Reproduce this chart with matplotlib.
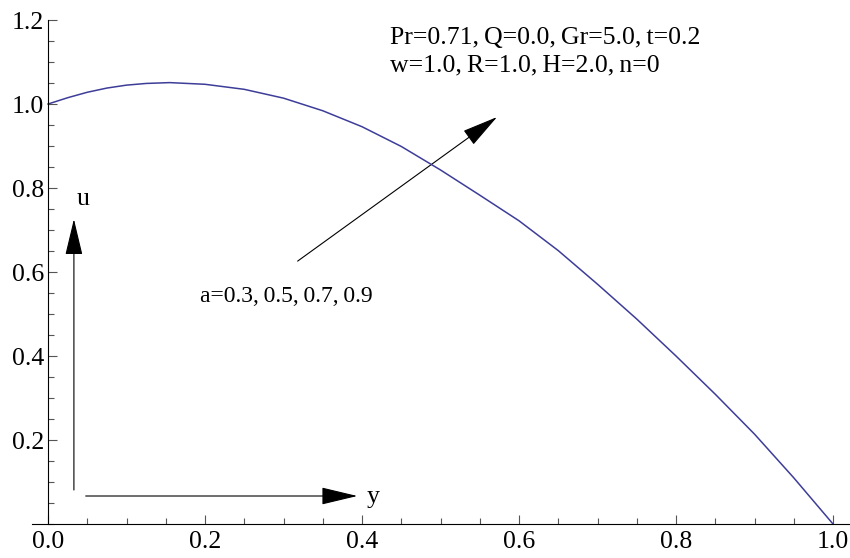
import matplotlib
matplotlib.use("Agg")
import matplotlib.pyplot as plt
from matplotlib.patches import FancyArrowPatch
from matplotlib.ticker import MultipleLocator

# velocity profile u(y) (curves for all a coincide)
y_vals = [0.0, 0.025, 0.05, 0.075, 0.1, 0.125, 0.155, 0.2, 0.25, 0.3, 0.35, 0.4,
          0.45, 0.5, 0.55, 0.6, 0.65, 0.7, 0.75, 0.8, 0.85, 0.9, 0.95, 1.0]
u_vals = [1.0, 1.015, 1.028, 1.038, 1.045, 1.049, 1.051, 1.047, 1.035, 1.014, 0.984,
          0.946, 0.899, 0.843, 0.783, 0.722, 0.651, 0.571, 0.488, 0.400, 0.309,
          0.214, 0.110, 0.0]

x_ticks = [0.0, 0.2, 0.4, 0.6, 0.8, 1.0]
y_ticks = [0.2, 0.4, 0.6, 0.8, 1.0, 1.2]

ts = "\u2009"
params_line1 = f"Pr=0.71,{ts}Q=0.0,{ts}Gr=5.0,{ts}t=0.2"
params_line2 = f"w=1.0,{ts}R=1.0,{ts}H=2.0,{ts}n=0"
a_label = f"a=0.3,{ts}0.5,{ts}0.7,{ts}0.9"

plt.rcParams["font.family"] = ["Liberation Serif", "DejaVu Serif"]

fig = plt.figure(figsize=(8.5, 5.58), dpi=100)
ax = fig.add_axes([0.038, 0.0609, 0.9605, 0.9032])

ax.plot(y_vals, u_vals, color="#3d3d99", lw=1.1)

ax.set_xlim(-0.02, 1.02)
ax.set_ylim(0, 1.2)
ax.spines["left"].set_position(("data", 0))
ax.spines["top"].set_visible(False)
ax.spines["right"].set_visible(False)
for s in ("left", "bottom"):
    ax.spines[s].set_linewidth(0.8)

ax.set_xticks(x_ticks, [f"{v:.1f}" for v in x_ticks])
ax.set_yticks(y_ticks, [f"{v:.1f}" for v in y_ticks])
ax.xaxis.set_minor_locator(MultipleLocator(0.05))
ax.yaxis.set_minor_locator(MultipleLocator(0.05))
ax.tick_params(which="both", direction="in", color="#555555", width=0.8,
               labelsize=18.5)
ax.tick_params(which="major", length=6.5)
ax.tick_params(which="minor", length=4.3)
ax.tick_params(axis="x", pad=5)
ax.tick_params(axis="y", pad=3)


def arrow(p0, p1):
    ax.add_patch(FancyArrowPatch(p0, p1, arrowstyle="-|>,head_length=2.3,head_width=0.55",
                                 mutation_scale=10, color="black", lw=0.8,
                                 shrinkA=0, shrinkB=0))


arrow((0.318, 0.626), (0.572, 0.969))
arrow((0.033, 0.081), (0.033, 0.726))
arrow((0.048, 0.0667), (0.394, 0.0667))

ax.text(0.037, 0.760, "u", fontsize=18.5, va="baseline", ha="left")
ax.text(0.406, 0.050, "y", fontsize=18.5, va="baseline", ha="left")
ax.text(0.436, 1.143, params_line1, fontsize=18.5, va="baseline", ha="left")
ax.text(0.436, 1.077, params_line2, fontsize=18.5, va="baseline", ha="left")
ax.text(0.194, 0.529, a_label, fontsize=17, va="baseline", ha="left")

fig.savefig("out.png", dpi=100)
